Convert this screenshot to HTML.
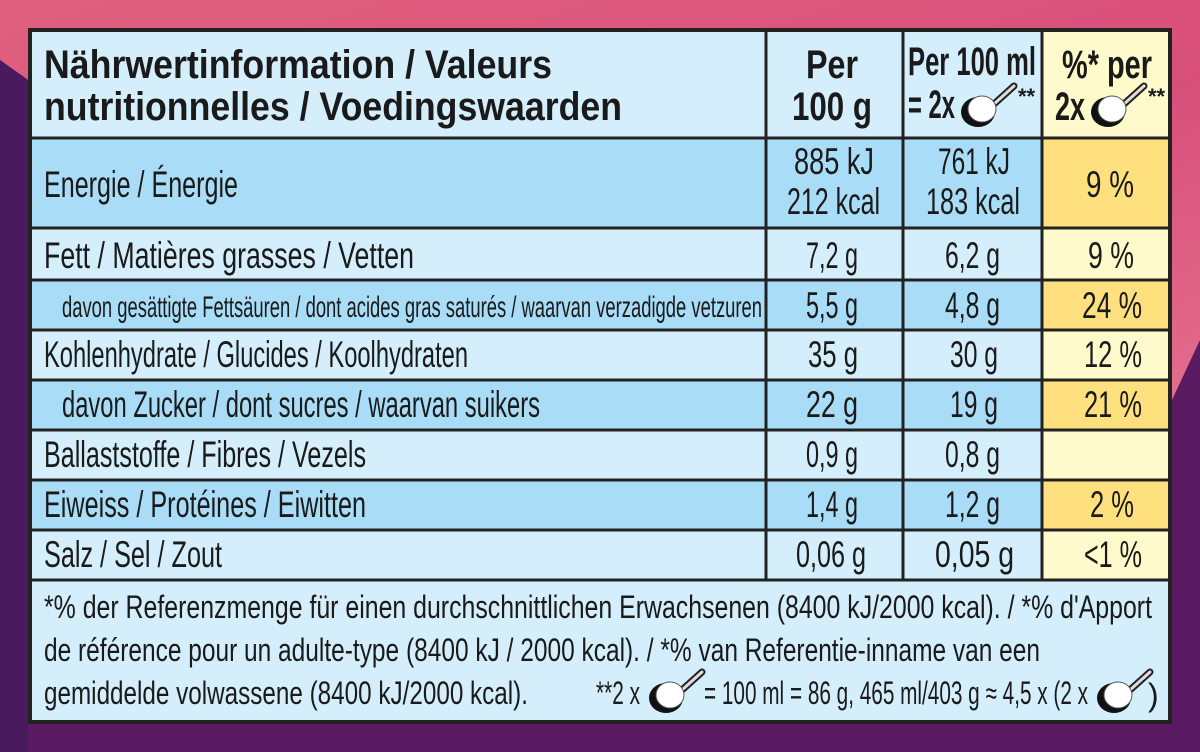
<!DOCTYPE html>
<html><head><meta charset="utf-8"><style>
html,body{margin:0;padding:0;width:1200px;height:752px;overflow:hidden;background:#4a1a5e}
svg{display:block}
text{font-family:"Liberation Sans Narrow","Liberation Sans",sans-serif;fill:#1a1a1a}
.b{font-weight:bold;font-size:40px}
.n{font-size:37px}
.s{font-size:30px}
.f{font-size:32px}
</style></head><body>
<svg width="1200" height="752" viewBox="0 0 1200 752">
<defs>
<linearGradient id="pk" x1="0" y1="0" x2="1" y2="1">
<stop offset="0" stop-color="#e0607f"/><stop offset="0.6" stop-color="#d84f7c"/><stop offset="1" stop-color="#e36d8c"/></linearGradient>
<g id="scoop">
<line x1="18" y1="8" x2="38" y2="-10" stroke="#222" stroke-width="7" stroke-linecap="round"/>
<line x1="18" y1="8" x2="38" y2="-10" stroke="#ddd" stroke-width="3" stroke-linecap="round"/>
<ellipse cx="2" cy="16" rx="17" ry="15" fill="#111"/>
<ellipse cx="6" cy="13" rx="14" ry="13" fill="#fff" stroke="#555" stroke-width="1"/>
</g>
</defs>
<rect width="1200" height="752" fill="#5a1a62"/>
<polygon points="0,0 1200,0 1200,340 1172,400 1172,28 28,28 28,80 0,60" fill="url(#pk)"/>
<polygon points="0,60 28,80 28,752 0,752" fill="#4a1a5e"/>
<rect x="28" y="28" width="1144" height="696" fill="#d4eefb"/>
<rect x="1042" y="28" width="130" height="110" fill="#fffacc"/>
<g fill="#a9dcf6">
<rect x="28" y="138" width="1014" height="90"/>
<rect x="28" y="280" width="1014" height="50"/>
<rect x="28" y="380" width="1014" height="50"/>
<rect x="28" y="480" width="1014" height="50"/>
</g>
<g fill="#fffacc">
<rect x="1042" y="228" width="130" height="52"/>
<rect x="1042" y="330" width="130" height="50"/>
<rect x="1042" y="430" width="130" height="50"/>
<rect x="1042" y="530" width="130" height="50"/>
</g>
<g fill="#ffe07e">
<rect x="1042" y="138" width="130" height="90"/>
<rect x="1042" y="280" width="130" height="50"/>
<rect x="1042" y="380" width="130" height="50"/>
<rect x="1042" y="480" width="130" height="50"/>
</g>
<g stroke="#222" stroke-width="3">
<line x1="28" y1="138" x2="1172" y2="138"/>
<line x1="28" y1="228" x2="1172" y2="228"/>
<line x1="28" y1="280" x2="1172" y2="280"/>
<line x1="28" y1="330" x2="1172" y2="330"/>
<line x1="28" y1="380" x2="1172" y2="380"/>
<line x1="28" y1="430" x2="1172" y2="430"/>
<line x1="28" y1="480" x2="1172" y2="480"/>
<line x1="28" y1="530" x2="1172" y2="530"/>
<line x1="28" y1="580" x2="1172" y2="580"/>
<line x1="766" y1="28" x2="766" y2="580"/>
<line x1="903" y1="28" x2="903" y2="580"/>
<line x1="1042" y1="28" x2="1042" y2="580"/>
</g>
<rect x="30" y="30" width="1140" height="692" fill="none" stroke="#222" stroke-width="4"/>
<text class="b" x="44" y="78" textLength="508" lengthAdjust="spacingAndGlyphs">Nährwertinformation / Valeurs</text>
<text class="b" x="44" y="120" textLength="578" lengthAdjust="spacingAndGlyphs">nutritionnelles / Voedingswaarden</text>
<text class="b" x="806" y="78" textLength="52" lengthAdjust="spacingAndGlyphs">Per</text>
<text class="b" x="792" y="120" textLength="80" lengthAdjust="spacingAndGlyphs">100 g</text>
<text class="b" x="908" y="75" textLength="128" lengthAdjust="spacingAndGlyphs">Per 100 ml</text>
<text class="b" x="908" y="118" textLength="47" lengthAdjust="spacingAndGlyphs">= 2x</text>
<use href="#scoop" x="976" y="96"/>
<text x="1018" y="104" font-size="22" font-weight="bold">**</text>
<text class="b" x="1062" y="78" textLength="90" lengthAdjust="spacingAndGlyphs">%* per</text>
<text class="b" x="1055" y="120" textLength="30" lengthAdjust="spacingAndGlyphs">2x</text>
<use href="#scoop" x="1106" y="96"/>
<text x="1148" y="104" font-size="22" font-weight="bold">**</text>

<text class="n" x="44" y="197" textLength="194" lengthAdjust="spacingAndGlyphs">Energie / Énergie</text>
<text class="n" x="794" y="174" textLength="80" lengthAdjust="spacingAndGlyphs">885 kJ</text>
<text class="n" x="787" y="214" textLength="93" lengthAdjust="spacingAndGlyphs">212 kcal</text>
<text class="n" x="938" y="174" textLength="72" lengthAdjust="spacingAndGlyphs">761 kJ</text>
<text class="n" x="926" y="214" textLength="94" lengthAdjust="spacingAndGlyphs">183 kcal</text>
<text class="n" x="1086" y="197" textLength="48" lengthAdjust="spacingAndGlyphs">9 %</text>

<text class="n" x="44" y="268" textLength="370" lengthAdjust="spacingAndGlyphs">Fett / Matières grasses / Vetten</text>
<text class="n" x="806" y="268" textLength="52" lengthAdjust="spacingAndGlyphs">7,2 g</text>
<text class="n" x="945" y="268" textLength="55" lengthAdjust="spacingAndGlyphs">6,2 g</text>
<text class="n" x="1088" y="268" textLength="46" lengthAdjust="spacingAndGlyphs">9 %</text>

<text class="s" x="62" y="317" textLength="700" lengthAdjust="spacingAndGlyphs">davon gesättigte Fettsäuren / dont acides gras saturés / waarvan verzadigde vetzuren</text>
<text class="n" x="806" y="318" textLength="52" lengthAdjust="spacingAndGlyphs">5,5 g</text>
<text class="n" x="945" y="318" textLength="55" lengthAdjust="spacingAndGlyphs">4,8 g</text>
<text class="n" x="1082" y="318" textLength="60" lengthAdjust="spacingAndGlyphs">24 %</text>

<text class="n" x="44" y="367" textLength="424" lengthAdjust="spacingAndGlyphs">Kohlenhydrate / Glucides / Koolhydraten</text>
<text class="n" x="808" y="367" textLength="50" lengthAdjust="spacingAndGlyphs">35 g</text>
<text class="n" x="950" y="367" textLength="48" lengthAdjust="spacingAndGlyphs">30 g</text>
<text class="n" x="1084" y="367" textLength="58" lengthAdjust="spacingAndGlyphs">12 %</text>

<text class="n" x="62" y="417" textLength="478" lengthAdjust="spacingAndGlyphs">davon Zucker / dont sucres / waarvan suikers</text>
<text class="n" x="806" y="417" textLength="52" lengthAdjust="spacingAndGlyphs">22 g</text>
<text class="n" x="950" y="417" textLength="48" lengthAdjust="spacingAndGlyphs">19 g</text>
<text class="n" x="1084" y="417" textLength="58" lengthAdjust="spacingAndGlyphs">21 %</text>

<text class="n" x="44" y="467" textLength="322" lengthAdjust="spacingAndGlyphs">Ballaststoffe / Fibres / Vezels</text>
<text class="n" x="806" y="467" textLength="52" lengthAdjust="spacingAndGlyphs">0,9 g</text>
<text class="n" x="945" y="467" textLength="55" lengthAdjust="spacingAndGlyphs">0,8 g</text>

<text class="n" x="44" y="517" textLength="322" lengthAdjust="spacingAndGlyphs">Eiweiss / Protéines / Eiwitten</text>
<text class="n" x="806" y="517" textLength="52" lengthAdjust="spacingAndGlyphs">1,4 g</text>
<text class="n" x="945" y="517" textLength="55" lengthAdjust="spacingAndGlyphs">1,2 g</text>
<text class="n" x="1090" y="517" textLength="44" lengthAdjust="spacingAndGlyphs">2 %</text>

<text class="n" x="44" y="567" textLength="178" lengthAdjust="spacingAndGlyphs">Salz / Sel / Zout</text>
<text class="n" x="796" y="567" textLength="70" lengthAdjust="spacingAndGlyphs">0,06 g</text>
<text class="n" x="935" y="567" textLength="79" lengthAdjust="spacingAndGlyphs">0,05 g</text>
<text class="n" x="1084" y="567" textLength="58" lengthAdjust="spacingAndGlyphs">&lt;1 %</text>

<text class="f" x="44" y="618" textLength="1108" lengthAdjust="spacingAndGlyphs">*% der Referenzmenge für einen durchschnittlichen Erwachsenen (8400 kJ/2000 kcal). / *% d'Apport</text>
<text class="f" x="44" y="661" textLength="996" lengthAdjust="spacingAndGlyphs">de référence pour un adulte-type (8400 kJ / 2000 kcal). / *% van Referentie-inname van een</text>
<text class="f" x="44" y="704" textLength="484" lengthAdjust="spacingAndGlyphs">gemiddelde volwassene (8400 kJ/2000 kcal).</text>
<text class="f" x="596" y="704" textLength="44" lengthAdjust="spacingAndGlyphs">**2 x</text>
<use href="#scoop" x="664" y="682"/>
<text class="f" x="704" y="704" textLength="384" lengthAdjust="spacingAndGlyphs">= 100 ml = 86 g, 465 ml/403 g ≈ 4,5 x (2 x</text>
<use href="#scoop" x="1112" y="682"/>
<text class="f" x="1148" y="706" font-size="38">)</text>
</svg>
</body></html>
